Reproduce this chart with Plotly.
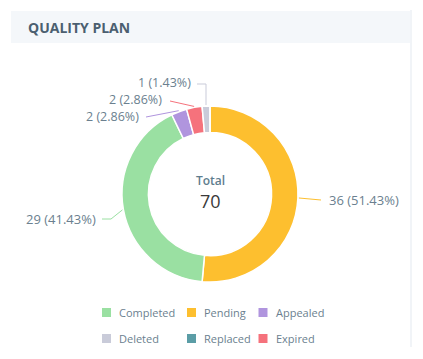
import math
import plotly.graph_objects as go

# ---------------- data ----------------
categories = ["Completed", "Pending", "Appealed", "Deleted", "Replaced", "Expired"]
counts = [29, 36, 2, 1, 0, 2]
colors = ["#9ae0a2", "#fdbf2f", "#b095de", "#c9cbd9", "#5b9da6", "#f5727c"]
draw_order = ["Pending", "Completed", "Appealed", "Expired", "Deleted", "Replaced"]
title_text = "QUALITY PLAN"
center_title = "Total"

# ---------------- layout constants ----------------
W, H = 423, 359          # browser window
PAD = 8                  # default body margin of the html page
FW, FH = W - 2 * PAD, H - 2 * PAD
CX, CY, R = 210, 194, 88  # donut centre / radius in page pixels
HOLE = 0.70
FONT = "Open Sans"
LABEL_COLOR = "#6b7f8f"

total = sum(counts)
value_of = dict(zip(categories, counts))
color_of = dict(zip(categories, colors))

ordered_vals = [value_of[c] for c in draw_order]
ordered_cols = [color_of[c] for c in draw_order]

fig = go.Figure()

# donut
fig.add_trace(go.Pie(
    labels=draw_order, values=ordered_vals,
    marker=dict(colors=ordered_cols, line=dict(color="white", width=1.5)),
    hole=HOLE, sort=False, direction="clockwise", rotation=0,
    textinfo="none", showlegend=False, hoverinfo="label+value+percent",
    domain=dict(x=[(CX - R - PAD) / FW, (CX + R - PAD) / FW],
                y=[1 - (CY + R - PAD) / FH, 1 - (CY - R - PAD) / FH]),
))

# label placement (layout only, page pixels)
label_layout = {
    "Pending":   dict(tx=327, ty=200,   anchor="left",  pts=[(321, 200)]),
    "Completed": dict(tx=98,  ty=219,   anchor="right", pts=[(111, 219), (102, 219)]),
    "Appealed":  dict(tx=141, ty=116.5, anchor="right", pts=[(146, 117)]),
    "Expired":   dict(tx=164, ty=99.5,  anchor="right", pts=[(170, 101)]),
    "Deleted":   dict(tx=193, ty=82.5,  anchor="right", pts=["vert", (197, 84)]),
}
label_sizes = {"Pending": 13, "Completed": 13, "Appealed": 12.5, "Expired": 12.5, "Deleted": 12.5}

shapes = []
annotations = []

# header band and card border
shapes.append(dict(type="rect", xref="x", yref="y", x0=11, x1=410, y0=11, y1=43,
                   fillcolor="#f4f7fa", line=dict(width=0), layer="below"))
shapes.append(dict(type="line", xref="x", yref="y", x0=411, x1=411, y0=10, y1=347,
                   line=dict(color="#e3e9f0", width=1), layer="below"))
annotations.append(dict(x=26, y=27, xref="x", yref="y", text=title_text, showarrow=False,
                        xanchor="left", yanchor="middle",
                        font=dict(family=FONT, size=14, color="#4b5f70", weight="bold")))

# outside labels with leader lines, anchored at slice mid-angles
cum = 0.0
for cat in draw_order:
    v = value_of[cat]
    start = cum
    cum += v
    if v <= 0 or cat not in label_layout:
        continue
    mid = (start + v / 2) / total * 2 * math.pi
    rx = CX + (R + 1) * math.sin(mid)
    ry = CY - (R + 1) * math.cos(mid)
    lay = label_layout[cat]
    path = f"M {rx:.2f},{ry:.2f}"
    last_y = lay["pts"][-1][1]
    for p in lay["pts"]:
        if p == "vert":
            path += f" L {rx:.2f},{last_y}"
        else:
            path += f" L {p[0]},{p[1]}"
    shapes.append(dict(type="path", xref="x", yref="y", path=path,
                       line=dict(color=color_of[cat], width=1)))
    annotations.append(dict(x=lay["tx"], y=lay["ty"], xref="x", yref="y",
                            text=f"{v} ({v / total * 100:.2f}%)", showarrow=False,
                            xanchor=lay["anchor"], yanchor="middle",
                            font=dict(family=FONT, size=label_sizes[cat], color=LABEL_COLOR)))

# centre text
annotations.append(dict(x=CX, y=180, xref="x", yref="y", text=center_title, showarrow=False,
                        xanchor="center", yanchor="middle",
                        font=dict(family=FONT, size=12, color="#5e7d8e", weight=600)))
annotations.append(dict(x=CX, y=200.5, xref="x", yref="y", text=str(total), showarrow=False,
                        xanchor="center", yanchor="middle",
                        font=dict(family=FONT, size=18, color="#3a3a3a")))

# custom legend (3 columns x 2 rows)
legend_cols = [106.5, 191.5, 263]
legend_rows = [312.5, 338.5]
for i, cat in enumerate(categories):
    lx = legend_cols[i % 3]
    ly = legend_rows[i // 3]
    fig.add_trace(go.Scatter(x=[lx], y=[ly], mode="markers",
                             marker=dict(symbol="square", size=9, color=color_of[cat]),
                             showlegend=False, hoverinfo="skip", cliponaxis=False))
    annotations.append(dict(x=lx + 10.5, y=ly, xref="x", yref="y", text=cat, showarrow=False,
                            xanchor="left", yanchor="middle",
                            font=dict(family=FONT, size=11, color=LABEL_COLOR)))

fig.update_layout(
    width=FW, height=FH,
    margin=dict(l=0, r=0, t=0, b=0),
    paper_bgcolor="white", plot_bgcolor="white",
    xaxis=dict(range=[PAD, PAD + FW], visible=False, fixedrange=True, domain=[0, 1]),
    yaxis=dict(range=[PAD + FH, PAD], visible=False, fixedrange=True, domain=[0, 1]),
    shapes=shapes, annotations=annotations,
    font=dict(family=FONT),
)

fig.write_html("out.html")
